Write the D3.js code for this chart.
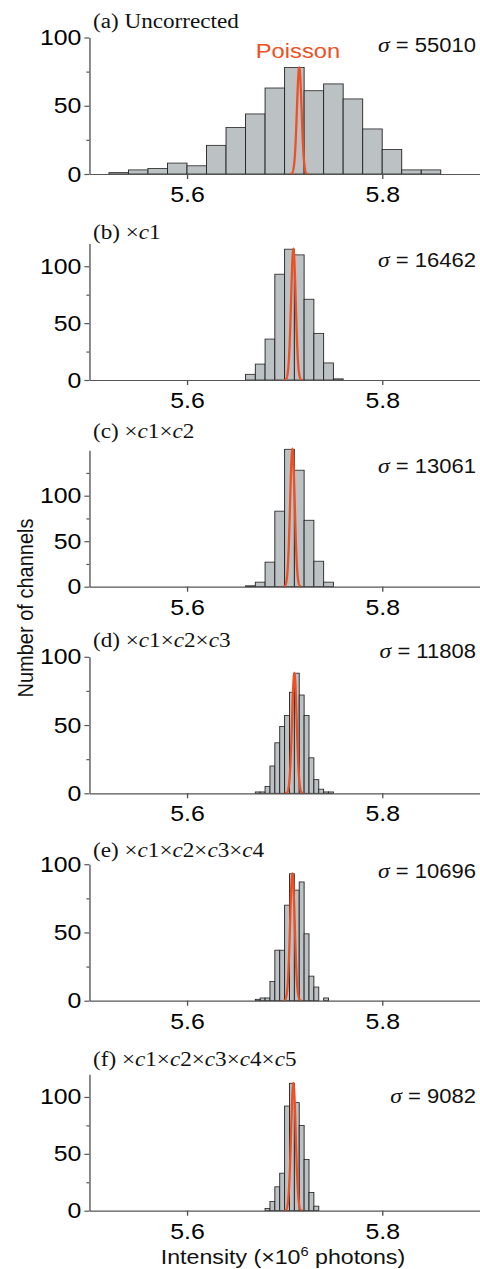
<!DOCTYPE html>
<html>
<head>
<meta charset="utf-8">
<script src="https://cdn.jsdelivr.net/npm/d3@7"></script>
<style>
  html, body { margin: 0; padding: 0; background: #fff; }
  svg { display: block; }
</style>
</head>
<body>
<div id="chart"></div>
<script>
// values
var titles = ["(a) Uncorrected", "(b) ×c1", "(c) ×c1×c2", "(d) ×c1×c2×c3",
              "(e) ×c1×c2×c3×c4", "(f) ×c1×c2×c3×c4×c5"];
var sigmas = [55010, 16462, 13061, 11808, 10696, 9082];
var binStart = [5.52, 5.66, 5.66, 5.67, 5.67, 5.68];
var binWidth = [0.02, 0.01, 0.01, 0.005, 0.005, 0.005];
var countsA = [1, 3, 4, 8, 6, 21, 34, 44, 63, 78, 61, 66, 55, 33, 18, 3, 3];
var countsB = [5, 14, 36, 93, 115, 110, 71, 41, 15, 1];
var countsC = [1, 5, 27, 83, 151, 128, 73, 28, 5];
var countsD = [1, 1, 5, 20, 37, 49, 57, 74, 88, 72, 57, 26, 10, 3, 1, 1];
var countsE = [1, 2, 2, 14, 37, 37, 70, 93, 81, 87, 49, 18, 10, 0, 2];
var countsF = [2, 8, 21, 33, 92, 112, 95, 75, 45, 16, 4];
var counts = [countsA, countsB, countsC, countsD, countsE, countsF];
var poissonCenter = [5.715, 5.709, 5.708, 5.710, 5.708, 5.709];
var poissonPeak = [78, 115, 151, 88, 93, 112];
var poissonSd = 0.00239;   // sqrt(5.71e6) / 1e6
var yMax = [100, 120, 150, 100, 100, 120];
var yLabels = [0, 50, 100];
var xTicks = [5.6, 5.8];

// layout (screen px); the figure is a bit stretched sideways, so draw in a narrower viewBox
var W = 480, H = 1269, S = 1.13, VBW = W / S;
var sx = function(v) { return v / S; };
var baseY = [174, 380, 586.7, 793.3, 1000.7, 1210.7];
var titleY = [28, 239.3, 438.3, 646.7, 856.7, 1066];
var sigmaY = [52, 267, 473.3, 658.3, 878.3, 1103.3];
var plotH = 136.5;

var sans = "'Liberation Sans', Arial, Helvetica, sans-serif";
var serif = "'Liberation Serif', 'Times New Roman', serif";
var red = "#f04e23";

var svg = d3.select("#chart").append("svg")
    .attr("width", W).attr("height", H)
    .attr("viewBox", "0 0 " + VBW + " " + H)
    .attr("preserveAspectRatio", "none");

var x = d3.scaleLinear().domain([5.5, 5.9]).range([sx(89.4), sx(479.8)]);

var curve = d3.line()
    .x(function(d) { return x(d[0]); })
    .y(function(d) { return d[1]; });

counts.forEach(function(data, p) {
  var y = d3.scaleLinear().domain([0, yMax[p]]).range([baseY[p], baseY[p] - plotH]);
  var g = svg.append("g");

  // bars
  g.selectAll("rect.bar")
    .data(data.map(function(c, i) {
      return { x0: binStart[p] + i * binWidth[p], x1: binStart[p] + (i + 1) * binWidth[p], c: c };
    }).filter(function(d) { return d.c > 0; }))
    .enter().append("rect")
      .attr("class", "bar")
      .attr("x", function(d) { return x(d.x0); })
      .attr("width", function(d) { return x(d.x1) - x(d.x0); })
      .attr("y", function(d) { return y(d.c); })
      .attr("height", function(d) { return y(0) - y(d.c); })
      .attr("fill", "#bcc1c4")
      .attr("stroke", "#222")
      .attr("stroke-width", 0.8);

  // poisson curve
  var pts = d3.range(-4, 4.001, 0.05).map(function(k) {
    return [poissonCenter[p] + k * poissonSd, y(poissonPeak[p] * Math.exp(-k * k / 2))];
  });
  g.append("path")
      .datum(pts)
      .attr("fill", "none")
      .attr("stroke", red)
      .attr("stroke-width", 2)
      .attr("d", curve);

  // y axis: labelled majors + minors
  var majors = yLabels.filter(function(v) { return v <= yMax[p]; });
  var minors = d3.range(25, yMax[p], 50);
  var ya = g.append("g")
      .attr("transform", "translate(" + x(5.5) + ",0)")
      .call(d3.axisLeft(y).tickValues(majors).tickSize(5 / S).tickSizeOuter(0).tickPadding(3 / S));
  ya.selectAll("text").attr("font-size", 22).attr("font-family", sans).attr("fill", "#000");
  g.append("g")
      .attr("transform", "translate(" + x(5.5) + ",0)")
      .call(d3.axisLeft(y).tickValues(minors).tickSize(3 / S).tickFormat(""))
    .select(".domain").remove();

  // x axis
  var xa = g.append("g")
      .attr("transform", "translate(0," + baseY[p] + ")")
      .call(d3.axisBottom(x).tickValues(xTicks).tickSize(5).tickSizeOuter(0).tickPadding(7.5)
        .tickFormat(d3.format(".1f")));
  xa.selectAll("text").attr("font-size", 22).attr("font-family", sans).attr("fill", "#000");

  g.selectAll(".domain, .tick line").attr("stroke", "#555").attr("stroke-width", 1.2);

  // panel title, italic c before digits
  var t = g.append("text")
      .attr("x", sx(93)).attr("y", titleY[p])
      .attr("font-family", serif).attr("font-size", 20.5).attr("fill", "#111");
  titles[p].split(/(c)(?=\d)/).forEach(function(s) {
    if (!s) return;
    t.append("tspan").text(s).attr("font-style", s === "c" ? "italic" : "normal");
  });

  // sigma label
  var st = g.append("text")
      .attr("x", sx(476)).attr("y", sigmaY[p])
      .attr("text-anchor", "end")
      .attr("font-family", sans).attr("font-size", 19.5).attr("fill", "#111");
  st.append("tspan").attr("font-family", serif).attr("font-style", "italic")
      .attr("font-size", 21).text("σ");
  st.append("tspan").text(" = " + sigmas[p]);
});

// "Poisson" label on panel (a)
svg.append("text")
    .attr("x", sx(298)).attr("y", 58)
    .attr("text-anchor", "middle")
    .attr("font-family", sans).attr("font-size", 21)
    .attr("fill", red)
    .text("Poisson");

// axis titles
svg.append("text")
    .attr("transform", "translate(" + sx(33) + ",608) rotate(-90)")
    .attr("text-anchor", "middle")
    .attr("font-family", sans).attr("font-size", 20).attr("fill", "#111")
    .text("Number of channels");

var xl = svg.append("text")
    .attr("x", sx(283)).attr("y", 1264)
    .attr("text-anchor", "middle")
    .attr("font-family", sans).attr("font-size", 20.5).attr("fill", "#111");
xl.append("tspan").text("Intensity (×10");
xl.append("tspan").attr("font-size", 13).attr("dy", -8).text("6");
xl.append("tspan").attr("dy", 8).text(" photons)");
</script>
</body>
</html>
